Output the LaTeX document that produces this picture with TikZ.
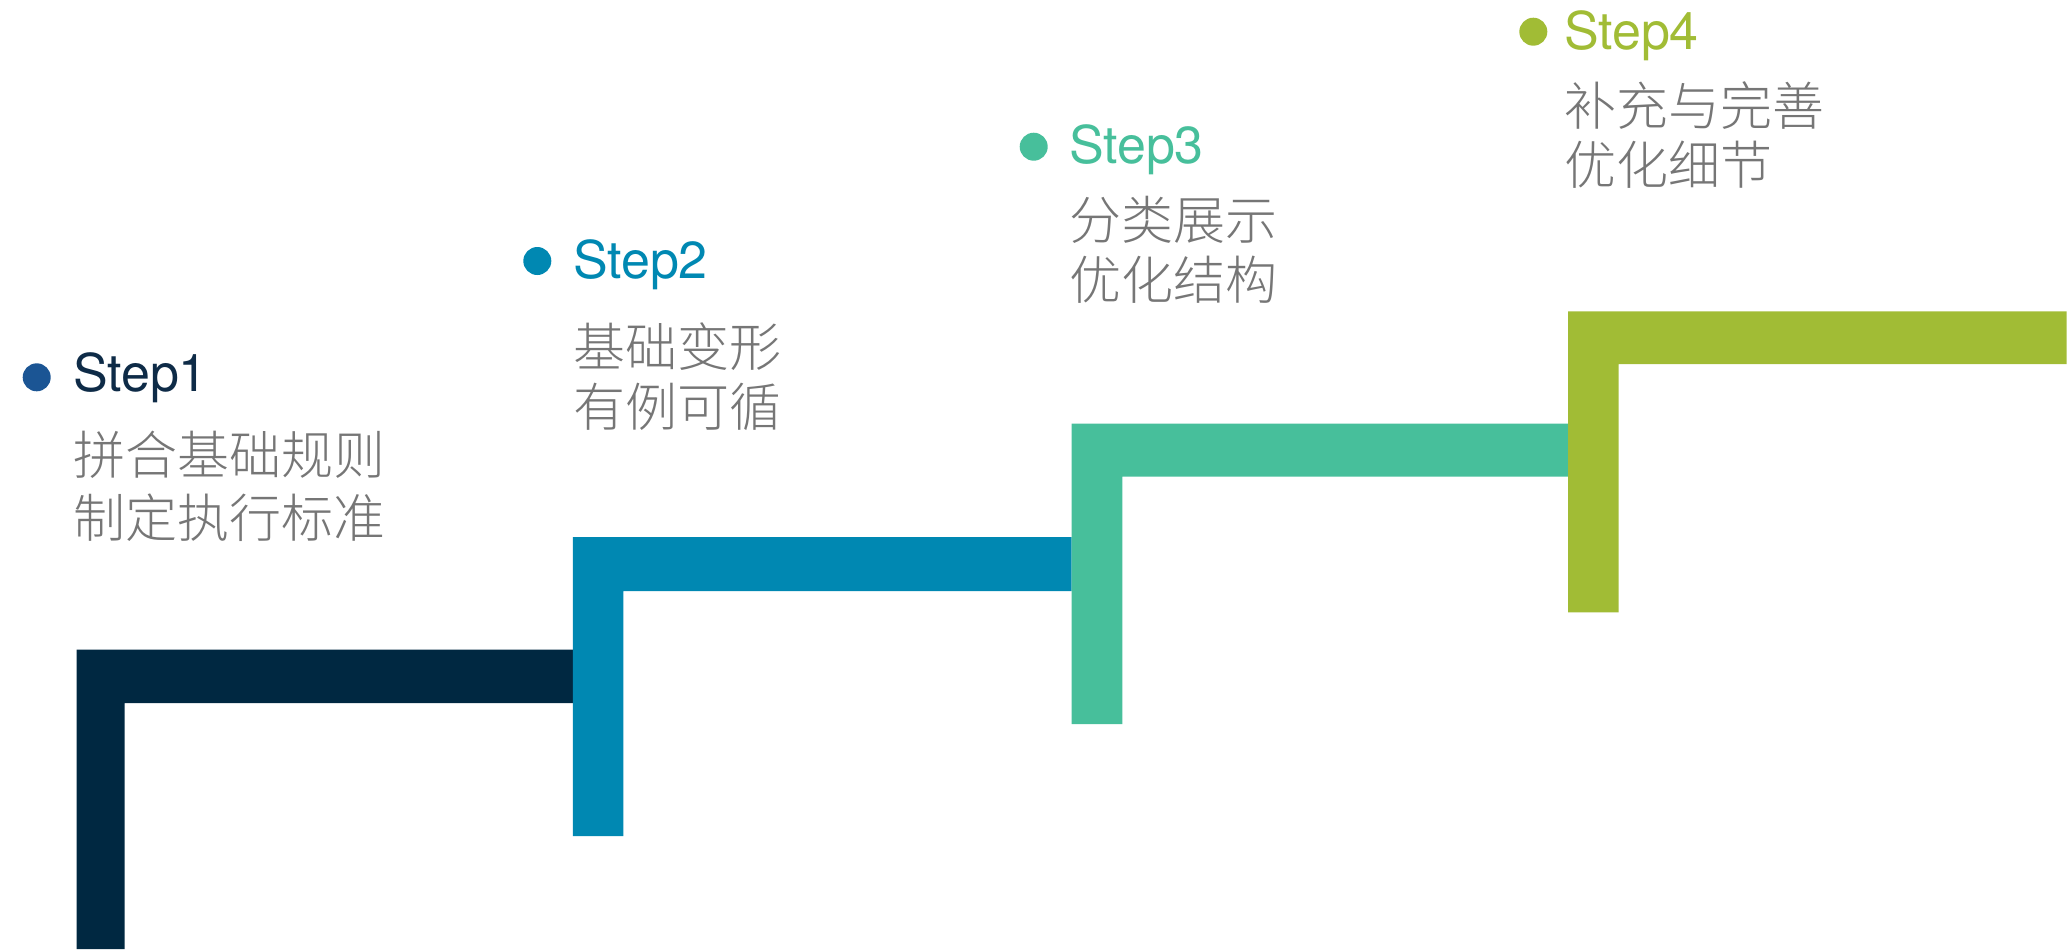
\documentclass[tikz,border=0pt]{standalone}
\usepackage{fontspec}
\setmainfont{TeX Gyre Heros}
\newfontfamily\cjkfont{Noto Sans CJK SC}[UprightFont={* Light}]
\newfontfamily\latinfont{TeX Gyre Heros}
\definecolor{cOne}{HTML}{002841}
\definecolor{cOneText}{HTML}{0E2B47}
\definecolor{cOneDot}{HTML}{1B5594}
\definecolor{cTwo}{HTML}{0088B2}
\definecolor{cThree}{HTML}{47BF9B}
\definecolor{cFour}{HTML}{A1BC35}
\definecolor{descgray}{HTML}{767676}
\tikzset{
  stair/.style={fill=#1, draw=none},
  bullet/.style={circle, fill=#1, draw=none, minimum size=14pt, inner sep=0pt},
  steplabel/.style={anchor=base west, inner sep=0pt, text=#1, font=\latinfont\fontsize{26}{30}\selectfont},
  desc/.style={anchor=base west, inner sep=0pt, text=descgray, font=\cjkfont\fontsize{26}{30}\selectfont}
}
\begin{document}
\begin{tikzpicture}[x=0.5pt,y=-0.5pt]
\useasboundingbox (0,0) rectangle (2070,949);
% stairs
\fill[stair=cOne]   (76.5,949) -- (76.5,649.5) -- (573,649.5) -- (573,703) -- (124.6,703) -- (124.6,949) -- cycle;
\fill[stair=cTwo]   (572.8,836) -- (572.8,537) -- (1071.7,537) -- (1071.7,591) -- (623.3,591) -- (623.3,836) -- cycle;
\fill[stair=cThree] (1071.7,724) -- (1071.7,423.7) -- (1568,423.7) -- (1568,476.5) -- (1122.3,476.5) -- (1122.3,724) -- cycle;
\fill[stair=cFour]  (1568,612.3) -- (1568,311.3) -- (2066.7,311.3) -- (2066.7,364) -- (1618.5,364) -- (1618.5,612.3) -- cycle;
% step 1
\node[bullet=cOneDot] (d1) at (36.7,377.3) {};
\node[steplabel=cOneText] (t1) at (72.6,391.7) {Step1};
\node[desc] (a1) at (73,474) {拼合基础规则};
\node[desc] (b1) at (73,537) {制定执行标准};
% step 2
\node[bullet=cTwo] (d2) at (537.3,261) {};
\node[steplabel=cTwo] (t2) at (572.6,278.7) {Step2};
\node[desc] (a2) at (573,366) {基础变形};
\node[desc] (b2) at (573,426) {有例可循};
% step 3
\node[bullet=cThree] (d3) at (1033.7,146.7) {};
\node[steplabel=cThree] (t3) at (1068.6,163.3) {Step3};
\node[desc] (a3) at (1069,239) {分类展示};
\node[desc] (b3) at (1069,299) {优化结构};
% step 4
\node[bullet=cFour] (d4) at (1533.3,31.7) {};
\node[steplabel=cFour] (t4) at (1563.6,49.3) {Step4};
\node[desc] (a4) at (1564,125) {补充与完善};
\node[desc] (b4) at (1564,184) {优化细节};
\end{tikzpicture}
\end{document}
